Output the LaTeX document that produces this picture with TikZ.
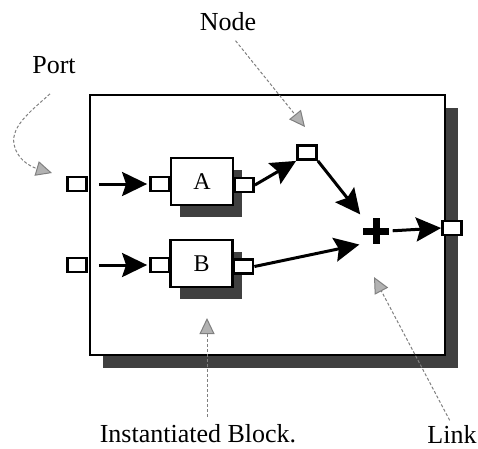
\documentclass[tikz,border=0pt]{standalone}
\usepackage{fontspec}
\setmainfont{Liberation Serif}
\newfontfamily\notefont{Liberation Serif}
\usetikzlibrary{arrows.meta,shadows}
\begin{document}
\begin{tikzpicture}[
    x=1pt, y=-1pt,
    note/.style={
        font=\notefont\fontsize{26}{30}\selectfont,
        inner sep=0pt
    },
    port/.style={
        draw, fill=white,
        line width=2.8pt,
        minimum width=19pt,
        minimum height=14pt,
        inner sep=0pt
    },
    block/.style={
        draw, fill=white,
        line width=2.8pt,
        minimum width=62pt,
        minimum height=47pt,
        font=\notefont\fontsize{24}{28}\selectfont,
        drop shadow={shadow xshift=9pt, shadow yshift=-12pt, fill=black!75, opacity=1}
    },
    link/.style={
        line width=3pt,
        -{Stealth[length=25pt, width=24pt, inset=4pt]}
    },
    pointer/.style={
        gray, densely dashed, line width=1pt,
        -{Triangle[length=16pt, width=15pt, fill=gray!60]}
    }
]

\useasboundingbox (0,0) rectangle (478,448);

\node[draw, fill=white, line width=2.8pt, minimum width=355pt, minimum height=260pt,
    drop shadow={shadow xshift=13pt, shadow yshift=-13pt, fill=black!75, opacity=1}]
    (frame) at (267.5,225) {};

\node[block] (blka) at (202,181.5) {A};
\node[block] (blkb) at (201.5,263.5) {B};

\node[port] (pa) at (77,184) {};
\node[port] (pb) at (77,265) {};
\node[port] (ia) at (160,184) {};
\node[port] (ib) at (160,265) {};
\node[port] (oa) at (244,185) {};
\node[port] (ob) at (243.5,266.5) {};
\node[port] (nd) at (307,152.5) {};
\node[port] (out) at (452,228) {};

\node[minimum size=25pt, inner sep=0pt] (sum) at (376,231) {};
\draw[line width=7pt] (sum.west) -- (sum.east) (sum.north) -- (sum.south);

\draw[link, shorten <=11pt, shorten >=2pt] (pa.east) -- (ia.west);
\draw[link, shorten <=11pt, shorten >=2pt] (pb.east) -- (ib.west);
\draw[link] (oa.east) -- (nd.south west);
\draw[link, shorten >=5pt] (nd.south east) -- (sum.north west);
\draw[link, shorten >=4pt] (ob.east) -- (sum.south west);
\draw[link, shorten <=4pt] (sum.east) -- (out.west);

\node[note] (lport) at (54,65) {Port};
\node[note] (lnode) at (228,22) {Node};
\node[note] (linst) at (198,434) {Instantiated Block.};
\node[note] (llink) at (452,434) {Link};

\coordinate (pport) at (52,173);
\coordinate (pnode) at (305,127);
\coordinate (pinst) at (207,318);
\coordinate (plink) at (374,277);

\draw[pointer] (lport.south) ++(-4,20) .. controls (30,112) and (8,128) .. (15,148)
    .. controls (20,163) and (35,168) .. (pport);
\draw[pointer, shorten <=12pt] (lnode.south) -- (pnode);
\draw[pointer, shorten <=8pt] (pinst |- linst.north) -- (pinst);
\draw[pointer, shorten <=5pt] (llink.north) -- (plink);

\end{tikzpicture}
\end{document}
